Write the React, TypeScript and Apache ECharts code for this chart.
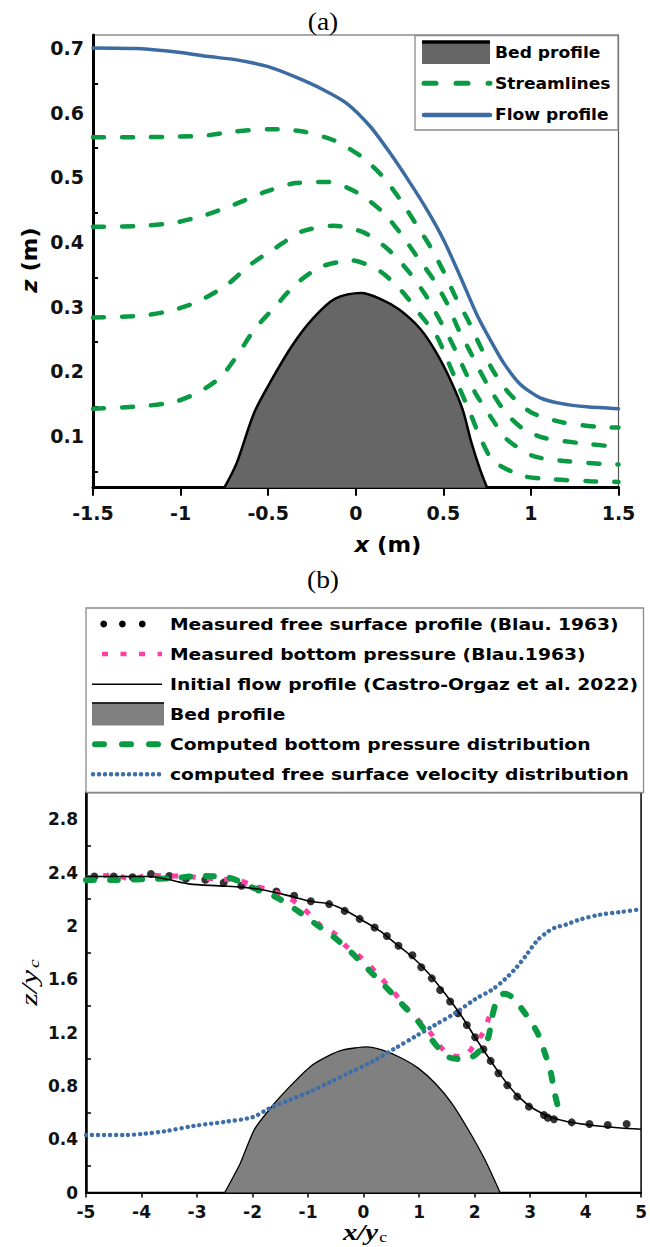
import React, { useEffect, useRef } from 'react';
import * as echarts from 'echarts';

const SANS = '"DejaVu Sans", Verdana, sans-serif';
const SERIF = '"Liberation Serif", "Times New Roman", serif';
const GREEN = '#0A9A43';
const BLUE_A = '#3C6BA2';
const BLUE_B = '#3E6EA8';
const PINK = '#FF3FA3';

// ---------- Panel (a) ----------
const aYLabels = [0.1, 0.2, 0.3, 0.4, 0.5, 0.6, 0.7];
const aYTicks = [0.045, 0.145, 0.245, 0.345, 0.445, 0.545, 0.645];

const bedA: number[][] = [
  [-0.75, 0.02], [-0.68, 0.058], [-0.58, 0.136], [-0.48, 0.187], [-0.36, 0.241], [-0.25, 0.28],
  [-0.12, 0.312], [0.03, 0.321], [0.14, 0.312], [0.25, 0.295], [0.37, 0.265], [0.46, 0.229],
  [0.54, 0.187], [0.61, 0.141], [0.66, 0.09], [0.71, 0.048], [0.75, 0.02],
];

const flowA: number[][] = [
  [-1.5, 0.7], [-1.25, 0.699], [-1.0, 0.693], [-0.85, 0.687], [-0.68, 0.6815], [-0.5, 0.671],
  [-0.335, 0.654], [-0.183, 0.635], [-0.05, 0.614], [0.083, 0.5785], [0.197, 0.537], [0.311, 0.491],
  [0.406, 0.45], [0.501, 0.4035], [0.596, 0.347], [0.691, 0.288], [0.767, 0.249], [0.844, 0.213],
  [0.939, 0.18], [1.053, 0.159], [1.176, 0.15], [1.319, 0.145], [1.5, 0.142],
];

const stream1: number[][] = [
  [-1.5, 0.562], [-1.25, 0.562], [-1.0, 0.563], [-0.877, 0.564], [-0.687, 0.5707], [-0.491, 0.5744],
  [-0.301, 0.5707], [-0.122, 0.5568], [0.032, 0.532], [0.155, 0.501], [0.254, 0.4652], [0.34, 0.4293],
  [0.425, 0.393], [0.501, 0.3545], [0.568, 0.316], [0.644, 0.2773], [0.711, 0.2387], [0.786, 0.2],
  [0.882, 0.164], [1.005, 0.1358], [1.177, 0.1213], [1.376, 0.1142], [1.5, 0.113],
];
const stream2: number[][] = [
  [-1.5, 0.4235], [-1.25, 0.4245], [-1.05, 0.429], [-0.871, 0.4405], [-0.697, 0.4575], [-0.526, 0.4765],
  [-0.345, 0.491], [-0.155, 0.4926], [0.007, 0.4765], [0.15, 0.4472], [0.254, 0.4138], [0.349, 0.3777],
  [0.444, 0.3417], [0.52, 0.3057], [0.587, 0.2645], [0.65, 0.232], [0.75, 0.18], [0.85, 0.138],
  [0.95, 0.112], [1.072, 0.0972], [1.262, 0.0895], [1.452, 0.0843], [1.5, 0.084],
];
const stream3: number[][] = [
  [-1.5, 0.283], [-1.22, 0.286], [-1.05, 0.294], [-0.9, 0.308], [-0.734, 0.334], [-0.602, 0.3649],
  [-0.459, 0.3906], [-0.307, 0.4163], [-0.126, 0.4251], [0.045, 0.4148], [0.187, 0.388], [0.301, 0.3545],
  [0.397, 0.3185], [0.473, 0.2825], [0.549, 0.2439], [0.615, 0.2053], [0.682, 0.1667], [0.768, 0.1306],
  [0.863, 0.0946], [1.015, 0.0688], [1.205, 0.061], [1.395, 0.057], [1.5, 0.056],
];
const stream4: number[][] = [
  [-1.5, 0.142], [-1.22, 0.146], [-1.03, 0.153], [-0.887, 0.169], [-0.768, 0.192], [-0.673, 0.226],
  [-0.578, 0.265], [-0.46, 0.3], [-0.345, 0.334], [-0.202, 0.3613], [-0.021, 0.3715], [0.14, 0.3545],
  [0.264, 0.3236], [0.368, 0.2876], [0.463, 0.254], [0.53, 0.213], [0.587, 0.177], [0.653, 0.1358],
  [0.711, 0.0972], [0.786, 0.061], [0.958, 0.038], [1.138, 0.0328], [1.338, 0.03], [1.5, 0.029],
];

// ---------- Panel (b) ----------
const bYLabels = [0, 0.4, 0.8, 1.2, 1.6, 2, 2.4, 2.8];
const bYTicks = [0.2, 0.6, 1.0, 1.4, 1.8, 2.2, 2.6];

const bedB: number[][] = [
  [-2.5, 0], [-2.22, 0.22], [-1.97, 0.47], [-1.63, 0.656], [-1.33, 0.794], [-0.96, 0.944],
  [-0.66, 1.019], [-0.37, 1.069], [0.05, 1.092], [0.33, 1.069], [0.69, 1.007], [0.99, 0.931],
  [1.29, 0.819], [1.59, 0.669], [1.89, 0.469], [2.19, 0.244], [2.46, 0],
];

const velocityB: number[][] = [
  [-5, 0.431], [-4.31, 0.431], [-3.97, 0.44], [-3.57, 0.46], [-3.05, 0.5], [-2.5, 0.53], [-2.0, 0.565],
  [-1.7, 0.63], [-1.33, 0.694], [-0.96, 0.756], [-0.59, 0.831], [-0.22, 0.906], [0.16, 0.982],
  [0.57, 1.082], [0.93, 1.17], [1.29, 1.257], [1.65, 1.345], [2.01, 1.45], [2.31, 1.52], [2.55, 1.6],
  [2.76, 1.69], [2.93, 1.78], [3.13, 1.89], [3.3, 1.95], [3.44, 1.985], [3.65, 2.01], [3.88, 2.045],
  [4.25, 2.083], [4.62, 2.103], [5, 2.125],
];

const initialB: number[][] = [
  [-5, 2.37], [-3.86, 2.37], [-3.5, 2.345], [-3.15, 2.315], [-2.6, 2.3], [-2.19, 2.29], [-1.83, 2.27],
  [-1.41, 2.232], [-0.93, 2.182], [-0.62, 2.165], [-0.3, 2.11], [-0.03, 2.044], [0.3, 1.96], [0.57, 1.87],
  [0.87, 1.77], [1.17, 1.644], [1.47, 1.49], [1.77, 1.32], [2.0, 1.17], [2.19, 1.05], [2.49, 0.869],
  [2.79, 0.719], [3.08, 0.624], [3.38, 0.564], [3.68, 0.531], [4.22, 0.499], [5, 0.474],
];

const measuredSurfaceB: number[][] = [
  [-4.85, 2.37], [-4.5, 2.37], [-4.16, 2.364], [-3.83, 2.389], [-3.5, 2.374], [-3.2, 2.352], [-2.85, 2.345],
  [-2.52, 2.324], [-2.2, 2.3], [-1.89, 2.275], [-1.57, 2.257], [-1.25, 2.225], [-0.95, 2.185], [-0.62, 2.163],
  [-0.34, 2.112], [-0.07, 2.052], [0.2, 1.987], [0.42, 1.924], [0.63, 1.85], [0.88, 1.78], [1.04, 1.69],
  [1.23, 1.606], [1.38, 1.519], [1.56, 1.432], [1.7, 1.344], [1.86, 1.256], [2.01, 1.164], [2.16, 1.074],
  [2.29, 0.987], [2.43, 0.894], [2.59, 0.804], [2.77, 0.719], [2.98, 0.644], [3.25, 0.581], [3.32, 0.56],
  [3.43, 0.549], [3.75, 0.526], [4.07, 0.514], [4.4, 0.506], [4.74, 0.514],
];

const measuredPressureB: number[][] = [
  [-5, 2.357], [-4.49, 2.382], [-4.19, 2.35], [-3.86, 2.382], [-3.57, 2.374], [-3.24, 2.374], [-2.91, 2.357],
  [-2.58, 2.35], [-2.28, 2.344], [-2.01, 2.307], [-1.68, 2.264], [-1.38, 2.22], [-1.17, 2.157], [-0.96, 2.082],
  [-0.785, 2.007], [-0.53, 1.944], [-0.32, 1.85], [-0.1, 1.782], [0.11, 1.702], [0.29, 1.62], [0.48, 1.532],
  [0.65, 1.45], [0.82, 1.362], [1.02, 1.278], [1.2, 1.2], [1.35, 1.11], [1.57, 1.03], [1.8, 1.02],
  [1.99, 1.104], [2.15, 1.197], [2.24, 1.289], [2.31, 1.389],
];

const computedPressureB: number[][] = [
  [-5, 2.344], [-4.46, 2.344], [-3.95, 2.35], [-3.45, 2.357], [-2.94, 2.374], [-2.43, 2.362], [-2.01, 2.289],
  [-1.56, 2.212], [-1.17, 2.107], [-0.815, 2.0], [-0.47, 1.894], [-0.175, 1.782], [0.124, 1.657],
  [0.423, 1.532], [0.722, 1.4], [0.99, 1.28], [1.23, 1.145], [1.5, 1.022], [1.75, 1.0], [2.0, 1.028],
  [2.235, 1.15], [2.31, 1.307], [2.414, 1.453], [2.53, 1.49], [2.66, 1.47], [2.92, 1.338], [3.13, 1.2],
  [3.263, 1.05], [3.37, 0.906], [3.44, 0.749], [3.53, 0.6],
];

const legendA = ['Bed profile', 'Streamlines', 'Flow profile'];
const legendB = [
  'Measured free surface profile (Blau. 1963)',
  'Measured bottom pressure (Blau.1963)',
  'Initial flow profile (Castro-Orgaz et al. 2022)',
  'Bed profile',
  'Computed bottom pressure distribution',
  'computed free surface velocity distribution',
];

const fmt = (v: number) => String(parseFloat(Number(v).toFixed(2)));

const tickLabel = (size: number) => ({
  fontFamily: SANS,
  fontWeight: 'bold',
  fontSize: size,
  color: '#111',
});

function txt(text: string, x: number, y: number, opts: any = {}) {
  return {
    type: 'text',
    x,
    y,
    z: 100,
    scaleX: opts.scaleX ?? 1,
    style: {
      text,
      fill: '#000',
      font: opts.font ?? `bold 16px ${SANS}`,
      textAlign: opts.align ?? 'left',
      textVerticalAlign: 'middle',
      align: opts.align ?? 'left',
      verticalAlign: 'middle',
      rich: opts.rich,
    },
  };
}

export default function App() {
  const ref = useRef<HTMLDivElement>(null);

  useEffect(() => {
    if (!ref.current) return;
    const chart = echarts.init(ref.current, undefined, { renderer: 'svg' });

    const legA = legendA.map((t, i) => txt(t, 495, [53, 83.3, 115][i], { scaleX: 1.07 }));
    const rowsB = [624, 654, 684.3, 714.3, 744.3, 774.3];
    const legB = legendB.map((t, i) => txt(t, 170, rowsB[i], { scaleX: 1.17 }));

    const option: any = {
      animation: false,
      backgroundColor: '#fff',
      grid: [
        { left: 93, top: 35, width: 525.5, height: 452.7, show: true, borderColor: '#555', borderWidth: 1.2 },
        { left: 86, top: 792.5, width: 557.5, height: 400, show: true, borderColor: '#000', borderWidth: 1.5 },
      ],
      xAxis: [
        {
          type: 'value', gridIndex: 0, min: -1.5, max: 1.5, interval: 0.5,
          axisLine: { show: true, onZero: false, lineStyle: { color: '#000', width: 3 } },
          axisTick: { show: true, length: 8, lineStyle: { color: '#000', width: 2 } },
          axisLabel: { margin: 16, formatter: fmt, ...tickLabel(19) },
          splitLine: { show: false },
        },
        {
          type: 'value', gridIndex: 1, min: -5, max: 5, interval: 1,
          axisLine: { show: true, onZero: false, lineStyle: { color: '#000', width: 2 } },
          axisTick: { show: true, length: 5, lineStyle: { color: '#000', width: 1.5 } },
          axisLabel: { margin: 11, formatter: fmt, ...tickLabel(17) },
          splitLine: { show: false },
        },
      ],
      yAxis: [
        {
          type: 'value', gridIndex: 0, min: 0.02, max: 0.72,
          axisLine: { show: true, onZero: false, lineStyle: { color: '#000', width: 3 } },
          axisTick: { show: true, inside: true, length: 5, customValues: aYTicks, lineStyle: { color: '#000', width: 2 } },
          axisLabel: { margin: 9, customValues: aYLabels, formatter: fmt, ...tickLabel(19) },
          splitLine: { show: false },
        },
        {
          type: 'value', gridIndex: 1, min: 0, max: 3,
          axisLine: { show: true, onZero: false, lineStyle: { color: '#000', width: 2.5 } },
          axisTick: { show: true, inside: true, length: 5, customValues: bYTicks, lineStyle: { color: '#000', width: 1.5 } },
          axisLabel: { margin: 8, customValues: bYLabels, formatter: fmt, ...tickLabel(17) },
          splitLine: { show: false },
        },
      ],
      series: [
        {
          name: 'Bed profile', type: 'line', xAxisIndex: 0, yAxisIndex: 0, data: bedA, symbol: 'none', smooth: 0.3,
          lineStyle: { color: '#000', width: 2.5 }, areaStyle: { color: '#666666', opacity: 1, origin: 'start' },
        },
        ...[stream1, stream2, stream3, stream4].map((d) => ({
          name: 'Streamlines', type: 'line', xAxisIndex: 0, yAxisIndex: 0, data: d, symbol: 'none', smooth: 0.25,
          lineStyle: { color: GREEN, width: 4.5, type: [11, 18], cap: 'round' },
        })),
        {
          name: 'Flow profile', type: 'line', xAxisIndex: 0, yAxisIndex: 0, data: flowA, symbol: 'none', smooth: 0.25,
          lineStyle: { color: BLUE_A, width: 3.5, cap: 'round', join: 'round' },
        },
        {
          name: 'Bed profile (b)', type: 'line', xAxisIndex: 1, yAxisIndex: 1, data: bedB, symbol: 'none', smooth: 0.2,
          lineStyle: { color: '#000', width: 1.3 }, areaStyle: { color: '#808080', opacity: 1, origin: 'start' },
        },
        {
          name: 'computed free surface velocity distribution', type: 'line', xAxisIndex: 1, yAxisIndex: 1,
          data: velocityB, symbol: 'none', smooth: 0.3,
          lineStyle: { color: BLUE_B, width: 4.4, type: [0.1, 5.9], cap: 'round' },
        },
        {
          name: 'Measured bottom pressure (Blau.1963)', type: 'line', xAxisIndex: 1, yAxisIndex: 1,
          data: measuredPressureB, symbol: 'none', smooth: 0.3,
          lineStyle: { color: PINK, width: 5, type: [6, 11.5], cap: 'butt' },
        },
        {
          name: 'Computed bottom pressure distribution', type: 'line', xAxisIndex: 1, yAxisIndex: 1,
          data: computedPressureB, symbol: 'none', smooth: 0.3,
          lineStyle: { color: GREEN, width: 6, type: [8, 16], cap: 'round' },
        },
        {
          name: 'Initial flow profile (Castro-Orgaz et al. 2022)', type: 'line', xAxisIndex: 1, yAxisIndex: 1,
          data: initialB, symbol: 'none', smooth: 0.3,
          lineStyle: { color: '#000', width: 1.6 },
        },
        {
          name: 'Measured free surface profile (Blau. 1963)', type: 'scatter', xAxisIndex: 1, yAxisIndex: 1,
          data: measuredSurfaceB, symbol: 'circle', symbolSize: 8, itemStyle: { color: '#000' },
        },
      ],
      graphic: [
        // titles
        txt('(a)', 323, 22, { font: `25px ${SERIF}`, align: 'center', scaleX: 1.1 }),
        txt('(b)', 323, 580, { font: `25px ${SERIF}`, align: 'center', scaleX: 1.1 }),
        // axis titles (a)
        txt('{i|x} (m)', 388, 545, {
          font: `bold 21px ${SANS}`, align: 'center', scaleX: 1.08,
          rich: { i: { fontStyle: 'italic', fontWeight: 'bold', fontSize: 21, fontFamily: SANS } },
        }),
        {
          type: 'group', x: 30, y: 260, rotation: Math.PI / 2, scaleX: 1.08, z: 100,
          children: [
            {
              type: 'text', x: 0, y: 0,
              style: {
                text: '{i|z} (m)', fill: '#000', font: `bold 21px ${SANS}`,
                textAlign: 'center', textVerticalAlign: 'middle', align: 'center', verticalAlign: 'middle',
                rich: { i: { fontStyle: 'italic', fontWeight: 'bold', fontSize: 21, fontFamily: SANS } },
              },
            },
          ],
        },
        // axis titles (b)
        {
          type: 'group', x: 343, y: 1232, scaleX: 1.25, z: 100,
          children: [
            { type: 'text', x: 0, y: 0, style: { text: 'x/y', fill: '#000', font: `italic bold 23px ${SERIF}`, textAlign: 'left', textVerticalAlign: 'middle', align: 'left', verticalAlign: 'middle' } },
            { type: 'text', x: 29, y: 5, style: { text: 'c', fill: '#000', font: `14px ${SERIF}`, textAlign: 'left', textVerticalAlign: 'middle', align: 'left', verticalAlign: 'middle' } },
          ],
        },
        {
          type: 'group', x: 29, y: 982, rotation: Math.PI / 2, scaleX: 1.4, z: 100,
          children: [
            { type: 'text', x: -17, y: 0, style: { text: 'z/y', fill: '#000', font: `italic 23px ${SERIF}`, textAlign: 'left', textVerticalAlign: 'middle', align: 'left', verticalAlign: 'middle' } },
            { type: 'text', x: 10, y: 5, style: { text: 'c', fill: '#000', font: `italic 14px ${SERIF}`, textAlign: 'left', textVerticalAlign: 'middle', align: 'left', verticalAlign: 'middle' } },
          ],
        },
        // legend (a)
        { type: 'rect', z: 99, shape: { x: 415, y: 35.5, width: 203, height: 94.5 }, style: { fill: '#fff', stroke: '#8a8a8a', lineWidth: 1.3 } },
        { type: 'rect', z: 100, shape: { x: 422, y: 41, width: 68, height: 23 }, style: { fill: '#666666' } },
        { type: 'line', z: 100, shape: { x1: 422, y1: 42, x2: 490, y2: 42 }, style: { stroke: '#000', lineWidth: 3.5 } },
        { type: 'line', z: 100, shape: { x1: 424, y1: 83.3, x2: 490, y2: 83.3 }, style: { stroke: GREEN, lineWidth: 5, lineDash: [12, 20], lineCap: 'round' } },
        { type: 'line', z: 100, shape: { x1: 424, y1: 115, x2: 490, y2: 115 }, style: { stroke: BLUE_A, lineWidth: 4.5, lineCap: 'round' } },
        ...legA,
        // legend (b)
        { type: 'rect', z: 99, shape: { x: 86, y: 608, width: 557.5, height: 184.5 }, style: { fill: '#fff', stroke: '#8a8a8a', lineWidth: 1.3 } },
        ...[103.7, 122.4, 142.3].map((cx) => ({ type: 'circle', z: 100, shape: { cx, cy: 624, r: 3.4 }, style: { fill: '#000' } })),
        { type: 'line', z: 100, shape: { x1: 102, y1: 654, x2: 162, y2: 654 }, style: { stroke: PINK, lineWidth: 4.5, lineDash: [6, 12.5] } },
        { type: 'line', z: 100, shape: { x1: 92, y1: 684.3, x2: 162, y2: 684.3 }, style: { stroke: '#000', lineWidth: 1.5 } },
        { type: 'rect', z: 100, shape: { x: 92, y: 702.5, width: 72, height: 23 }, style: { fill: '#808080' } },
        { type: 'line', z: 100, shape: { x1: 92, y1: 703, x2: 164, y2: 703 }, style: { stroke: '#000', lineWidth: 1.5 } },
        { type: 'line', z: 100, shape: { x1: 95, y1: 744.3, x2: 162, y2: 744.3 }, style: { stroke: GREEN, lineWidth: 6, lineDash: [9, 18], lineCap: 'round' } },
        { type: 'line', z: 100, shape: { x1: 93, y1: 774.3, x2: 162, y2: 774.3 }, style: { stroke: BLUE_B, lineWidth: 4.4, lineDash: [0.1, 5.9], lineCap: 'round' } },
        ...legB,
      ],
    };

    chart.setOption(option);
    return () => chart.dispose();
  }, []);

  return <div ref={ref} style={{ position: 'absolute', left: 0, top: 0, width: 650, height: 1247, background: '#fff' }} />;
}
